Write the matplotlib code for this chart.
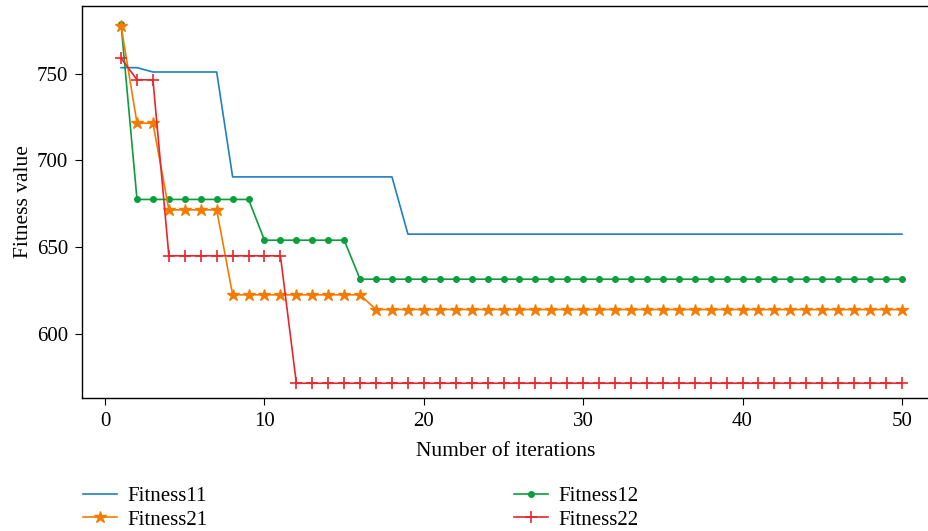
import numpy as np
import matplotlib.pyplot as plt

plt.rcParams['font.family'] = ['Liberation Serif', 'DejaVu Serif']

iterations = np.arange(1, 51)

# step values: (first iteration, value)
steps11 = [(1, 753.5), (3, 751), (8, 690.5), (19, 657.5)]
steps12 = [(1, 778.5), (2, 677.5), (10, 654), (16, 631.5)]
steps21 = [(1, 777.5), (2, 721.5), (4, 671.5), (8, 622.5), (17, 614)]
steps22 = [(1, 759), (2, 746.5), (4, 645), (12, 571.5)]


def expand(steps):
    vals = []
    for it in iterations:
        v = steps[0][1]
        for start, val in steps:
            if it >= start:
                v = val
        vals.append(v)
    return np.array(vals)


fitness11 = expand(steps11)
fitness12 = expand(steps12)
fitness21 = expand(steps21)
fitness22 = expand(steps22)

fig = plt.figure(figsize=(9.29, 5.31), dpi=100)
ax = fig.add_axes([0.0883, 0.2505, 0.9117, 0.738])

l11, = ax.plot(iterations, fitness11, color='#1f7fc4', lw=1.2, label='Fitness11')
l12, = ax.plot(iterations, fitness12, color='#0a9e3c', lw=1.2, marker='o', ms=4,
               label='Fitness12')
l21, = ax.plot(iterations, fitness21, color='#f57a00', lw=1.2, marker='*', ms=9,
               label='Fitness21')
l22, = ax.plot(iterations, fitness22, color='#e8262d', lw=1.2, marker='+', ms=8,
               mew=1.2, label='Fitness22')

ax.set_xlim(-1.45, 51.7)
ax.set_ylim(563, 789)
ax.set_xticks([0, 10, 20, 30, 40, 50])
ax.set_yticks([600, 650, 700, 750])
ax.spines['right'].set_visible(False)
for s in ax.spines.values():
    s.set_linewidth(1.0)
ax.tick_params(labelsize=15, length=5, pad=5)
ax.set_xlabel('Number of iterations', fontsize=15.5, labelpad=8)
ax.set_ylabel('Fitness value', fontsize=15.5, labelpad=3)

fig.legend(handles=[l11, l21, l12, l22], ncol=2, frameon=False, fontsize=15,
           loc='upper left', bbox_to_anchor=(0.08, 0.1), handlelength=1.65,
           handletextpad=0.5, columnspacing=14.7, labelspacing=0.2,
           borderaxespad=0)

fig.savefig('out.png', dpi=100)
